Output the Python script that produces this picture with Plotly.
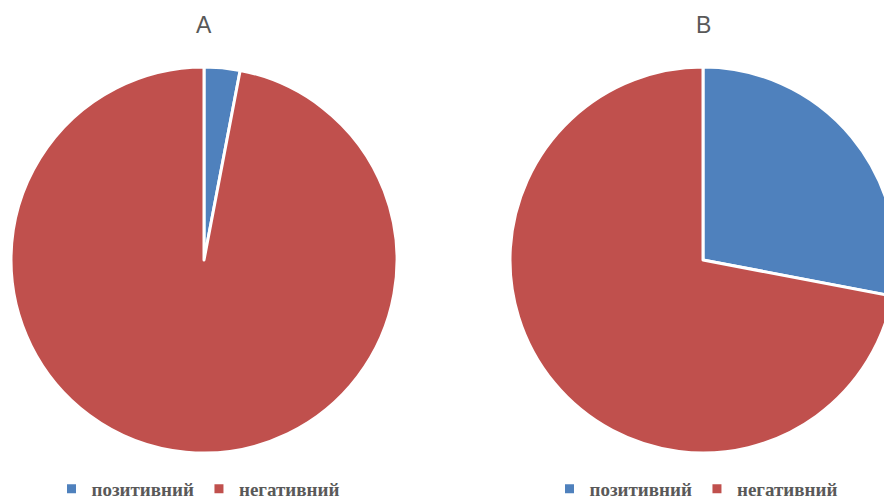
import plotly.graph_objects as go

labels = ["позитивний", "негативний"]
values_a = [3, 97]
values_b = [28, 72]
titles = ["A", "B"]
colors = ["#4F81BD", "#C0504D"]

W, H = 900, 502

def dom_x(cx, r):
    return [(cx - r) / W, (cx + r) / W]

dom_y = [(H - 453) / H, (H - 67) / H]

fig = go.Figure()
fig.add_trace(go.Pie(
    labels=labels, values=values_a, sort=False, direction="clockwise", rotation=0,
    marker=dict(colors=colors, line=dict(color="white", width=3)),
    textinfo="none", domain=dict(x=dom_x(204, 193), y=dom_y), legend="legend",
))
fig.add_trace(go.Pie(
    labels=[l + "\u200b" for l in labels], values=values_b, sort=False,
    direction="clockwise", rotation=0,
    marker=dict(colors=colors, line=dict(color="white", width=3)),
    textinfo="none", domain=dict(x=dom_x(703, 193), y=dom_y), legend="legend2",
))

legend_font = dict(family="Liberation Serif", size=19, color="#595959", weight="bold")
for name, cx in (("legend", 198), ("legend2", 696)):
    fig.layout[name] = dict(
        orientation="h", x=cx / W, xanchor="center", y=(H - 489) / H, yanchor="middle",
        font=legend_font, bgcolor="rgba(0,0,0,0)", itemwidth=30,
    )

for t, cx in zip(titles, (204, 703)):
    fig.add_annotation(text=t, x=cx / W, y=(H - 25) / H, xref="paper", yref="paper",
                       xanchor="center", yanchor="middle", showarrow=False,
                       font=dict(family="Liberation Sans", size=23, color="#595959"))

fig.update_layout(
    width=W, height=H, margin=dict(l=0, r=0, t=0, b=0, autoexpand=False),
    paper_bgcolor="white", plot_bgcolor="white",
)

fig.write_html("out.html", config={"displayModeBar": False},
               post_script="document.body.style.overflow='hidden';document.documentElement.style.overflow='hidden';document.body.style.margin='0';")
